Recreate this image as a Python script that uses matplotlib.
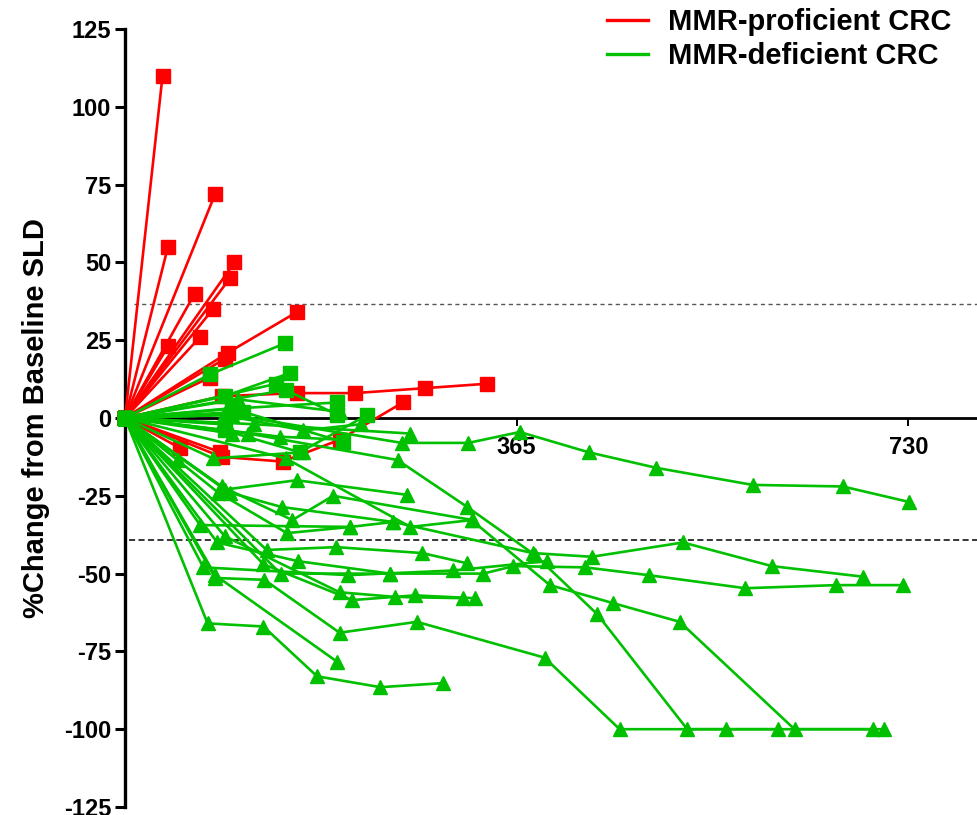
import matplotlib
matplotlib.use("Agg")
import matplotlib.pyplot as plt
from matplotlib.lines import Line2D

plt.rcParams['font.family'] = ['Liberation Sans', 'DejaVu Sans']

# ---------------- data ----------------
# MMR-proficient CRC (red, squares): days since start, % change from baseline SLD
red_days = [
    [0, 35], [0, 40], [0, 84], [0, 102], [0, 98], [0, 65], [0, 82], [0, 70],
    [0, 40], [0, 96, 160], [0, 93], [0, 79], [0, 90, 160, 214, 280, 337],
    [0, 90, 147, 200, 259], [0, 89], [0, 51],
]
red_vals = [
    [0, 110], [0, 55], [0, 72], [0, 50], [0, 45], [0, 40], [0, 35], [0, 26],
    [0, 23], [0, 21, 34], [0, 19], [0, 13], [0, 7, 8, 8, 9.6, 11],
    [0, -12.5, -14, -7, 5], [0, -11], [0, -9.6],
]

# MMR-deficient CRC, square-marker patients (green)
grn_sq_days = [
    [0, 79, 149], [0, 93, 154], [0, 141], [0, 100, 198], [0, 93, 163, 226],
    [0, 110, 203], [0, 150, 198],
]
grn_sq_vals = [
    [0, 14, 24], [0, 7, 14.5], [0, 11], [0, 3, 5], [0, -4, -11, 1],
    [0, 2, -7.7], [0, 9, 1],
]

# MMR-deficient CRC, triangle-marker patients (green)
grn_tri_days = [
    [0, 100, 258, 320, 368, 432, 495, 585, 669, 731],
    [0, 120, 266],
    [0, 115, 254, 319, 382, 440, 524, 609],
    [0, 150, 266, 323, 396, 455, 517, 624, 707],
    [0, 70, 210, 250, 380, 435, 520, 603, 688],
    [0, 145, 247, 334, 362, 429, 488, 578, 663, 725],
    [0, 77, 129, 179, 238, 296],
    [0, 84, 198],
    [0, 84, 130, 200, 272, 391, 461, 560, 697],
    [0, 73, 208, 306, 393],
    [0, 93, 200, 252, 315],
    [0, 129, 212, 270, 326],
    [0, 132, 197, 277, 319],
    [0, 93, 160, 263],
    [0, 98, 146, 250],
    [0, 86, 161, 247],
    [0, 90, 156, 194, 324],
    [0, 49],
    [0, 82, 166],
    [0, 144, 203],
    [0, 95],
    [0, 90],
    [0, 105, 200],
    [0, 100],
    [0, 92, 166, 220],
    [0, 87, 151, 210],
]
grn_tri_vals = [
    [0, 1, -8, -8, -4.5, -11, -16, -21.5, -22, -27],
    [0, -2, -5],
    [0, -5, -13.5, -28.6, -44, -63, -100, -100],
    [0, -13, -35, -32.8, -53.7, -59.5, -65.5, -100, -100],
    [0, -34.4, -35, -33.4, -43.4, -44.6, -40, -47.6, -51],
    [0, -50, -50, -50, -47.6, -48, -50.5, -54.7, -53.7, -53.7],
    [0, -66, -67, -83, -86.5, -85.2],
    [0, -50.5, -78.4],
    [0, -51.4, -52, -69, -65.5, -77, -100, -100, -100],
    [0, -48, -50.5, -49, -46],
    [0, -38, -56, -57.5, -57.9],
    [0, -47, -58.5, -57, -57.9],
    [0, -42.4, -41.5, -43.4, -46.7],
    [0, -23, -20, -24.7],
    [0, -24, -28.6, -33.4],
    [0, -40, -46, -50],
    [0, -22, -32.8, -25, -32.8],
    [0, -13.5],
    [0, -13, -11],
    [0, -6, -7],
    [0, 3],
    [0, -2],
    [0, 6, 2],
    [0, -5],
    [0, 1, -4, -2],
    [0, -24, -37, -35],
]

y_ticks = [-125, -100, -75, -50, -25, 0, 25, 50, 75, 100, 125]
x_ticks = [365, 730]
upper_ref = 36.5
lower_ref = -39.3
legend_labels = ["MMR-proficient CRC", "MMR-deficient CRC"]

RED = "#ff0000"
GREEN = "#00c000"

# ---------------- figure ----------------
fig = plt.figure(figsize=(9.78, 8.15), dpi=100)
ax = fig.add_axes([125 / 978, 1 - 807 / 815, 1 - 125 / 978, (807 - 29) / 815])
ax.set_xlim(0, 795)
ax.set_ylim(-125, 125)

LW = 1.9
for d, v in zip(red_days, red_vals):
    ax.plot(d, v, color=RED, lw=LW, marker='s', ms=10, mec=RED, mfc=RED,
            clip_on=False, zorder=3)
for d, v in zip(grn_tri_days, grn_tri_vals):
    ax.plot(d, v, color=GREEN, lw=LW, marker='^', ms=10.5, mec=GREEN, mfc=GREEN,
            clip_on=False, zorder=4)
for d, v in zip(grn_sq_days, grn_sq_vals):
    ax.plot(d, v, color=GREEN, lw=LW, marker='s', ms=10, mec=GREEN, mfc=GREEN,
            clip_on=False, zorder=5)

ax.axhline(upper_ref, xmin=8 / 795, color='#555555', lw=1.0, dashes=(3, 2.5), zorder=1)
ax.axhline(lower_ref, xmin=4 / 795, color='black', lw=1.1, dashes=(4, 2.2), zorder=1)

# spines
for s in ['top', 'right']:
    ax.spines[s].set_visible(False)
ax.spines['left'].set_linewidth(2.4)
ax.spines['bottom'].set_position(('data', 0))
ax.spines['bottom'].set_linewidth(2.0)
ax.spines['bottom'].set_zorder(2)

ax.set_yticks(y_ticks)
ax.set_yticklabels([str(t) for t in y_ticks], fontsize=17, fontweight='bold')
ax.set_xticks(x_ticks)
ax.set_xticklabels([str(t) for t in x_ticks], fontsize=17, fontweight='bold')
ax.tick_params(axis='y', direction='out', length=7, width=2.2, pad=3)
ax.tick_params(axis='x', direction='out', length=6, width=1.4, pad=7)

ax.set_ylabel("%Change from Baseline SLD", fontsize=21, fontweight='bold', labelpad=10)

handles = [Line2D([0], [0], color=RED, lw=2.4), Line2D([0], [0], color=GREEN, lw=2.4)]
fig.legend(handles, legend_labels, loc='upper left', bbox_to_anchor=(607 / 978, 1 - 8 / 815),
           frameon=False, prop={'size': 21, 'weight': 'bold'}, handlelength=1.4,
           handletextpad=0.7, labelspacing=0.2, borderpad=0, borderaxespad=0)

fig.savefig("out.png", dpi=100)
